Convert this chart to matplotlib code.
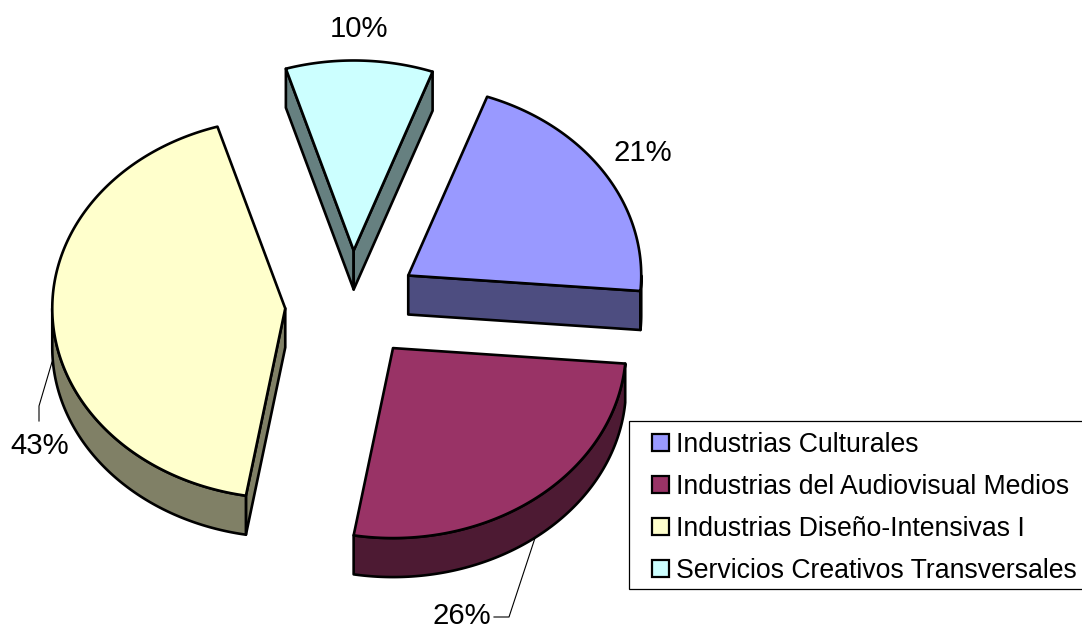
import numpy as np
import matplotlib
matplotlib.use("Agg")
import matplotlib.pyplot as plt
from matplotlib.patches import Polygon, Patch, Rectangle

categories = ["Industrias Culturales", "Industrias del Audiovisual Medios",
              "Industrias Diseño-Intensivas I", "Servicios Creativos Transversales"]
values = [20.8, 26.4, 42.6, 10.2]
tops = ["#9999FF", "#993366", "#FFFFCC", "#CCFFFF"]
sides = ["#4D4D80", "#4D1A33", "#808066", "#668080"]
label_pos = [(643, 153), (462, 616), (40, 446), (359, 29)]
leaders = [None, [(535, 538), (509, 617), (494, 617)], [(52, 362), (39, 406), (39, 421)], None]

START = 19.8      # first slice angle, clockwise from 12 o'clock
CX, CY = 352, 305 # pie centre in pixels
A, B = 233, 190   # ellipse radii
DEPTH = 39
EXPLODE = 0.287
EDGE = 1.9

fig = plt.figure(figsize=(10.82, 6.28), dpi=100)
ax = fig.add_axes([0, 0, 1, 1])
ax.set_xlim(0, 1082)
ax.set_ylim(628, 0)
ax.axis("off")


def arc(cx, cy, t0, t1, n=160):
    t = np.radians(np.linspace(t0, t1, n))
    return np.column_stack([cx + A * np.sin(t), cy - B * np.cos(t)])


def poly(pts, fc, z=1):
    ax.add_patch(Polygon(pts, closed=True, fc=fc, ec="black", lw=EDGE, joinstyle="round", zorder=z))


angles = START + np.concatenate([[0], np.cumsum(values)]) * 3.6
down = np.array([0, DEPTH])
for i in range(len(values)):
    t0, t1 = angles[i], angles[i + 1]
    mid = np.radians((t0 + t1) / 2)
    cx = CX + EXPLODE * A * np.sin(mid)
    cy = CY - EXPLODE * B * np.cos(mid)
    apex = np.array([cx, cy])
    # visible radial walls
    if np.sin(np.radians(t0)) < 0:
        e = arc(cx, cy, t0, t0, 1)[0]
        poly([apex, e, e + down, apex + down], sides[i])
    if np.sin(np.radians(t1)) > 0:
        e = arc(cx, cy, t1, t1, 1)[0]
        poly([apex, e, e + down, apex + down], sides[i])
    # visible rim: the front half of the ellipse
    r0, r1 = max(t0, 90), min(t1, 270)
    if r0 < r1:
        rim = arc(cx, cy, r0, r1)
        poly(np.vstack([rim, rim[::-1] + down]), sides[i])
    poly(np.vstack([[apex], arc(cx, cy, t0, t1)]), tops[i], 2)

FONT = "Liberation Sans"
for v, (x, y), ld in zip(values, label_pos, leaders):
    ax.text(x, y, f"{v:.0f}%", family=FONT, fontsize=21.2, ha="center", va="center", color="black", zorder=5)
    if ld:
        ax.plot(*zip(*ld), color="black", lw=0.8, zorder=4)

# legend frame runs past the right edge of the picture, as in the reference
ax.add_patch(Rectangle((629, 421), 480, 168, fc="white", ec="black", lw=0.9, zorder=6))
handles = [Patch(fc=c, ec="black", lw=1.6) for c in tops]
leg = ax.legend(handles, categories, loc="upper left", bbox_to_anchor=(652, 432),
                bbox_transform=ax.transData, borderaxespad=0, borderpad=0, frameon=False,
                prop={"family": FONT, "size": 19.15},
                handlelength=0.64, handleheight=0.64, handletextpad=0.27,
                labelspacing=0.6)
leg.set_zorder(7)
fig.savefig("out.png", dpi=100)
